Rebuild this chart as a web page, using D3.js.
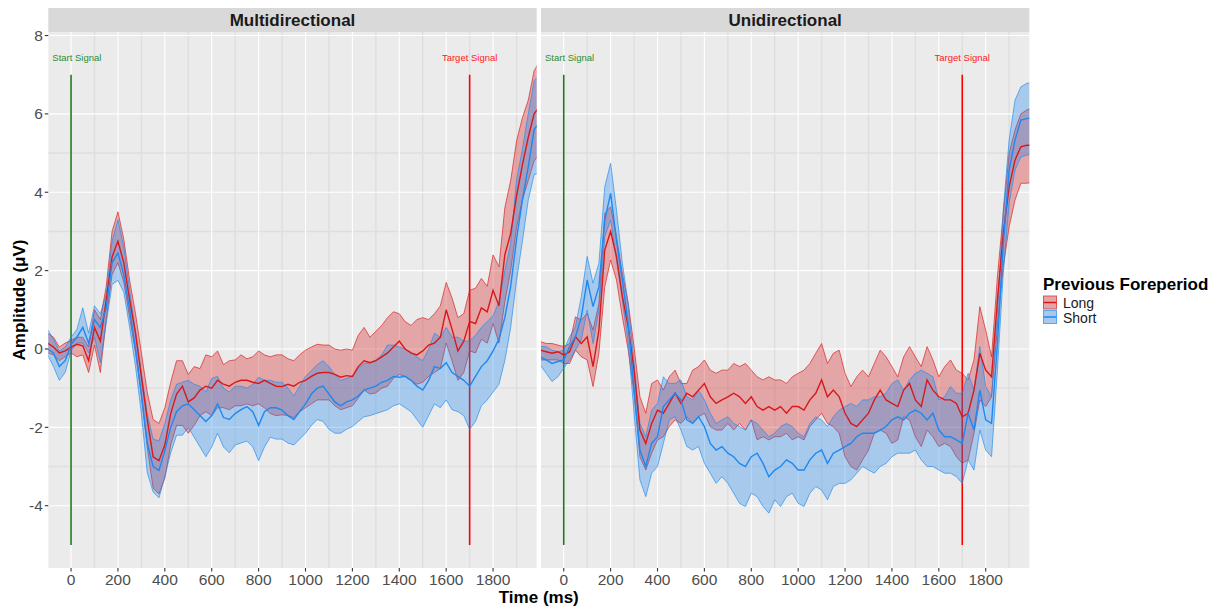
<!DOCTYPE html>
<html>
<head>
<meta charset="utf-8">
<script src="https://cdn.jsdelivr.net/npm/d3@7"></script>
<style>
  body { margin: 0; background: #fff; }
  text { font-family: "Liberation Sans", Arial, sans-serif; }
</style>
</head>
<body>
<div id="chart"></div>
<script>
// Время (мс), шаг 25
const times = [-100, -75, -50, -25, 0, 25, 50, 75,
  100, 125, 150, 175, 200, 225, 250, 275,
  300, 325, 350, 375, 400, 425, 450, 475,
  500, 525, 550, 575, 600, 625, 650, 675,
  700, 725, 750, 775, 800, 825, 850, 875,
  900, 925, 950, 975, 1000, 1025, 1050, 1075,
  1100, 1125, 1150, 1175, 1200, 1225, 1250, 1275,
  1300, 1325, 1350, 1375, 1400, 1425, 1450, 1475,
  1500, 1525, 1550, 1575, 1600, 1625, 1650, 1675,
  1700, 1725, 1750, 1775, 1800, 1825, 1850, 1875,
  1900, 1925, 1950, 1975, 2000];

const facets = ["Multidirectional", "Unidirectional"];
const groups = ["Long", "Short"];
const xTicks = [0, 200, 400, 600, 800, 1000, 1200, 1400, 1600, 1800];
const xMinor = [100, 300, 500, 700, 900, 1100, 1300, 1500, 1700, 1900];
const yTicks = [-4, -2, 0, 2, 4, 6, 8];
const yMinor = [5, 3, -1, -3];
const events = [{label: "Start Signal", t: 0, labelT: 25, clr: "#1f7a1f", txt: "#2e8b2e"},
                {label: "Target Signal", t: 1700, labelT: 1700, clr: "#ff0000", txt: "#ff2020"}];

// Multidirectional, Long
const multiLongMean = [0.15, 0.05, -0.1, -0.05, 0.05, 0.12, 0.08, -0.3,
  0.55, 0.2, 1.25, 2.35, 2.75, 2.2, 1.25, 0.4,
  -0.7, -1.8, -2.75, -2.85, -2.45, -1.65, -1.15, -0.95,
  -1.35, -1.25, -1.05, -0.95, -1.0, -0.8, -0.9, -0.95,
  -0.85, -0.8, -0.8, -0.85, -0.88, -0.8, -0.88, -0.95,
  -0.96, -0.9, -0.95, -0.85, -0.8, -0.7, -0.62, -0.6,
  -0.6, -0.65, -0.72, -0.68, -0.7, -0.45, -0.3, -0.35,
  -0.3, -0.2, -0.1, 0.05, 0.2, 0.0, -0.1, -0.15,
  -0.05, 0.1, 0.15, 0.3, 1.0, 0.5, -0.05, 0.2,
  0.7, 0.65, 1.05, 0.95, 1.5, 1.1, 2.4, 2.95,
  3.9, 4.7, 5.4, 6.0, 6.2];
const multiLongHi = [0.4, 0.3, 0.05, 0.15, 0.22, 0.3, 0.3, 0.05,
  1.0, 0.75, 1.6, 3.0, 3.5, 2.8, 1.75, 0.9,
  -0.1, -1.1, -1.8, -1.9, -1.5, -0.85, -0.3, -0.3,
  -0.65, -0.45, -0.5, -0.15, -0.2, -0.05, -0.4, -0.3,
  -0.28, -0.15, -0.25, -0.2, -0.05, -0.15, -0.2, -0.15,
  -0.15, -0.25, -0.3, -0.15, -0.03, 0.05, 0.12, 0.1,
  0.1, 0.0, -0.03, 0.0, -0.03, 0.35, 0.55, 0.3,
  0.45, 0.6, 0.8, 0.95, 0.9, 0.7, 0.6, 0.75,
  0.8, 0.75, 0.9, 1.1, 1.7, 1.3, 0.8, 0.9,
  1.5, 1.55, 1.8, 1.6, 2.4, 2.1, 3.6, 4.3,
  5.3, 5.9, 6.35, 7.1, 7.35];
const multiLongLo = [-0.1, -0.15, -0.3, -0.2, -0.1, -0.2, -0.15, -0.6,
  0.1, -0.6, 0.75, 1.9, 2.2, 1.7, 0.8, -0.1,
  -1.2, -2.5, -3.55, -3.7, -3.3, -2.45, -1.95, -1.95,
  -2.15, -1.95, -1.7, -1.6, -1.7, -1.5, -1.5, -1.55,
  -1.45, -1.45, -1.4, -1.45, -1.4, -1.5, -1.65, -1.7,
  -1.68, -1.7, -1.75, -1.6, -1.5, -1.4, -1.3, -1.3,
  -1.3, -1.45, -1.55, -1.5, -1.45, -1.25, -1.05, -1.15,
  -1.12, -1.0, -0.95, -0.75, -0.65, -0.7, -0.8, -0.9,
  -0.85, -0.7, -0.6, -0.5, 0.15, -0.3, -0.8, -0.6,
  -0.05, -0.1, 0.25, 0.15, 0.65, 0.15, 1.2, 2.0,
  3.1, 3.8, 4.3, 4.8, 5.0];

// Multidirectional, Short
const multiShortMean = [0.0, -0.1, -0.45, -0.3, 0.12, 0.3, 0.55, 0.15,
  0.75, 0.55, 1.05, 2.2, 2.45, 1.9, 1.0, 0.0,
  -1.15, -2.4, -3.0, -3.1, -2.6, -2.0, -1.6, -1.45,
  -1.4, -1.55, -1.7, -1.85, -1.7, -1.4, -1.75, -1.8,
  -1.65, -1.55, -1.47, -1.6, -1.95, -1.6, -1.5, -1.5,
  -1.56, -1.7, -1.8, -1.6, -1.4, -1.15, -1.0, -0.95,
  -1.15, -1.35, -1.45, -1.35, -1.3, -1.2, -1.05, -1.0,
  -0.95, -0.85, -0.8, -0.7, -0.72, -0.7, -0.8, -0.95,
  -1.05, -0.8, -0.45, -0.5, -0.35, -0.6, -0.7, -0.8,
  -0.95, -0.7, -0.45, -0.3, -0.05, 0.25, 0.8, 1.6,
  2.8, 3.8, 4.65, 5.6, 5.8];
const multiShortHi = [0.5, 0.25, -0.05, 0.05, 0.3, 0.5, 1.05, 0.4,
  1.1, 0.9, 1.4, 2.75, 3.3, 2.6, 1.5, 0.45,
  -0.6, -1.65, -2.3, -2.35, -1.9, -1.3, -0.9, -0.85,
  -0.8, -0.9, -0.95, -1.1, -0.75, -0.7, -1.0, -1.1,
  -0.95, -0.95, -1.0, -0.9, -0.72, -0.8, -0.8, -0.85,
  -0.85, -1.0, -1.2, -0.95, -0.7, -0.55, -0.4, -0.3,
  -0.45, -0.65, -0.8, -0.75, -0.7, -0.5, -0.37, -0.35,
  -0.28, -0.15, 0.1, 0.1, 0.05, 0.0, -0.1, -0.2,
  -0.3, 0.0, 0.4, 0.3, 0.55, 0.3, 0.3, 0.2,
  0.2, 0.35, 0.55, 0.7, 0.85, 1.2, 2.0, 2.7,
  4.3, 5.1, 6.0, 6.85, 7.0];
const multiShortLo = [-0.15, -0.45, -0.8, -0.6, -0.05, 0.15, 0.15, -0.1,
  0.3, -0.35, 0.65, 1.65, 1.75, 1.45, 0.55, -0.45,
  -1.65, -3.15, -3.65, -3.8, -3.25, -2.65, -2.2, -2.2,
  -2.0, -2.25, -2.5, -2.75, -2.5, -2.15, -2.5, -2.65,
  -2.45, -2.4, -2.35, -2.5, -2.85, -2.5, -2.25, -2.3,
  -2.3, -2.4, -2.45, -2.3, -2.15, -1.95, -1.8, -1.85,
  -2.05, -2.15, -2.15, -2.05, -1.98, -1.85, -1.73, -1.7,
  -1.65, -1.6, -1.55, -1.45, -1.4, -1.5, -1.6, -1.8,
  -2.0, -1.7, -1.4, -1.5, -1.3, -1.55, -1.6, -1.7,
  -2.05, -1.85, -1.45, -1.3, -1.1, -0.9, -0.3, 0.55,
  1.75, 2.75, 3.8, 4.45, 4.5];

// Unidirectional, Long
const uniLongMean = [-0.03, -0.07, -0.11, -0.07, -0.15, -0.07, 0.31, 0.14,
  0.31, -0.45, 0.48, 2.53, 3.0, 2.36, 1.34, 0.57,
  -0.54, -2.07, -2.41, -1.9, -1.56, -1.64, -1.39, -1.13,
  -1.39, -1.13, -1.22, -1.05, -0.88, -1.22, -1.39, -1.3,
  -1.22, -1.13, -1.22, -1.39, -1.22, -1.47, -1.56, -1.47,
  -1.56, -1.47, -1.64, -1.47, -1.47, -1.56, -1.3, -1.13,
  -0.79, -1.22, -1.05, -1.22, -1.64, -1.9, -1.98, -1.81,
  -1.64, -1.3, -1.05, -1.3, -1.39, -1.47, -1.05, -0.88,
  -1.3, -1.47, -0.79, -1.05, -1.22, -1.3, -1.3, -1.39,
  -1.73, -1.64, -1.05, -0.11, -0.54, -0.71, 1.25, 2.95,
  4.14, 4.82, 5.16, 5.2, 5.2];
const uniLongHi = [0.19, 0.14, 0.14, 0.1, 0.06, 0.14, 0.82, 0.74,
  0.91, 0.48, 1.16, 3.46, 3.63, 2.87, 1.93, 1.16,
  0.06, -1.22, -1.64, -0.88, -0.79, -1.05, -0.71, -0.54,
  -0.88, -0.88, -0.54, -0.45, -0.28, -0.54, -0.62, -0.54,
  -0.54, -0.37, -0.45, -0.37, -0.54, -0.71, -0.79, -0.71,
  -0.79, -0.79, -0.88, -0.71, -0.62, -0.54, -0.37, -0.11,
  0.14, -0.37, -0.11, -0.03, -0.62, -0.96, -0.71, -0.54,
  -0.71, -0.37, -0.03, -0.2, -0.45, -0.71, -0.2, 0.06,
  -0.2, -0.45, 0.06, -0.28, -0.71, -0.45, -0.28, -0.54,
  -0.62, -0.79, -0.28, 1.08, 0.48, -0.2, 1.85, 3.46,
  4.99, 5.59, 6.0, 6.1, 6.15];
const uniLongLo = [-0.28, -0.28, -0.28, -0.28, -0.37, -0.37, -0.03, -0.2,
  -0.28, -0.96, -0.11, 1.59, 2.27, 1.76, 0.82, -0.03,
  -1.13, -2.75, -3.09, -2.66, -2.32, -2.24, -1.98, -1.81,
  -1.9, -1.73, -1.9, -1.73, -1.64, -1.98, -2.07, -2.07,
  -1.9, -2.07, -1.9, -2.07, -1.81, -2.32, -2.24, -2.32,
  -2.24, -2.24, -2.15, -2.32, -2.24, -2.32, -1.98, -1.81,
  -1.64, -1.9, -1.98, -2.15, -2.75, -3.0, -3.09, -2.83,
  -2.58, -2.15, -2.07, -2.15, -2.41, -2.32, -1.73, -1.81,
  -2.24, -2.49, -2.07, -2.24, -2.49, -2.41, -2.49, -2.75,
  -2.92, -2.83, -2.15, -1.3, -1.47, -1.22, 0.57, 2.1,
  3.12, 3.8, 4.23, 4.23, 4.25];

// Unidirectional, Short
const uniShortMean = [-0.2, -0.28, -0.37, -0.32, -0.28, 0.06, 0.31, 0.82,
  1.76, 1.08, 1.59, 3.29, 3.97, 2.78, 1.76, 0.65,
  -1.05, -2.58, -3.0, -2.41, -2.24, -1.47, -1.3, -1.13,
  -1.3, -1.81, -1.9, -1.73, -1.98, -2.41, -2.58, -2.49,
  -2.66, -2.75, -2.92, -3.0, -2.75, -2.66, -2.92, -3.26,
  -3.09, -3.0, -2.83, -2.92, -3.09, -3.09, -2.83, -2.66,
  -2.58, -2.92, -2.66, -2.58, -2.49, -2.41, -2.24, -2.15,
  -2.15, -2.15, -2.07, -1.98, -1.81, -1.73, -1.81, -1.64,
  -1.56, -1.64, -1.81, -1.64, -2.07, -2.24, -2.24, -2.32,
  -2.41, -1.64, -2.07, -1.05, -1.81, -1.9, 0.14, 2.7,
  4.57, 5.33, 5.84, 5.88, 5.9];
const uniShortHi = [0.06, 0.06, -0.03, -0.07, -0.03, 0.31, 0.57, 1.34,
  2.36, 1.68, 2.19, 4.14, 4.74, 3.55, 2.19, 1.16,
  -0.37, -1.9, -2.24, -1.56, -1.39, -0.71, -0.88, -0.88,
  -0.79, -1.22, -1.3, -1.05, -1.3, -1.64, -1.9, -1.81,
  -1.73, -1.9, -1.98, -2.07, -1.81, -1.9, -2.07, -2.24,
  -2.15, -1.98, -1.9, -1.98, -2.15, -2.24, -1.9, -1.73,
  -1.81, -1.98, -1.73, -1.56, -1.47, -1.39, -1.47, -1.3,
  -1.3, -1.22, -1.22, -1.13, -0.88, -0.79, -1.05, -0.79,
  -0.62, -0.54, -0.62, -0.71, -1.3, -1.22, -0.96, -1.13,
  -1.13, -0.62, -1.05, 0.06, -0.96, -1.22, 0.91, 3.55,
  5.33, 6.35, 6.69, 6.78, 6.8];
const uniShortLo = [-0.41, -0.62, -0.83, -0.71, -0.49, -0.28, -0.03, 0.23,
  0.99, 0.14, 0.99, 2.87, 3.29, 2.27, 1.25, 0.14,
  -1.64, -3.34, -3.77, -3.17, -3.0, -2.41, -1.81, -1.73,
  -2.07, -2.49, -2.58, -2.49, -2.92, -3.17, -3.43, -3.26,
  -3.43, -3.68, -3.94, -4.02, -3.68, -3.77, -4.02, -4.19,
  -3.85, -4.02, -3.77, -3.68, -3.94, -4.02, -3.68, -3.51,
  -3.6, -3.85, -3.51, -3.43, -3.43, -3.34, -3.17, -3.0,
  -3.09, -3.17, -3.0, -2.92, -2.75, -2.66, -2.66, -2.66,
  -2.58, -2.83, -3.0, -3.0, -3.09, -3.17, -3.17, -3.26,
  -3.43, -2.83, -3.09, -2.07, -2.58, -2.75, -0.54, 1.93,
  3.72, 4.57, 4.9, 4.95, 4.95];

const colors = {Long: "#d7191c", Short: "#1e88f0"};

// Собираем серии
function rows(mean, lo, hi) {
    return times.map((t, i) => ({t: t, m: mean[i], lo: lo[i], hi: hi[i]}));
}
const panels = [
    {name: facets[0], x0: 48.3, x1: 536.7, series: {
        Long: rows(multiLongMean, multiLongLo, multiLongHi),
        Short: rows(multiShortMean, multiShortLo, multiShortHi)}},
    {name: facets[1], x0: 541, x1: 1029.3, series: {
        Long: rows(uniLongMean, uniLongLo, uniLongHi),
        Short: rows(uniShortMean, uniShortLo, uniShortHi)}}
];

const W = 1219, H = 610;
const panelTop = 32, panelBottom = 568;
const svg = d3.select("#chart").append("svg")
    .attr("width", W).attr("height", H);

const y = d3.scaleLinear().domain([-5.59, 8.09]).range([panelBottom, panelTop]);

panels.forEach((p, pi) => {
    const x = d3.scaleLinear().domain([-97, 1986]).range([p.x0, p.x1]);
    const g = svg.append("g");

    // фон и сетка
    g.append("rect").attr("x", p.x0).attr("y", panelTop)
        .attr("width", p.x1 - p.x0).attr("height", panelBottom - panelTop).attr("fill", "#ebebeb");
    g.selectAll(".vminor").data(xMinor).enter().append("line")
        .attr("x1", d => x(d)).attr("x2", d => x(d)).attr("y1", panelTop).attr("y2", panelBottom)
        .attr("stroke", "#dedede").attr("stroke-width", 1.4);
    g.selectAll(".hminor").data(yMinor).enter().append("line")
        .attr("x1", p.x0).attr("x2", p.x1).attr("y1", d => y(d)).attr("y2", d => y(d))
        .attr("stroke", "#dedede").attr("stroke-width", 1.4);
    g.selectAll(".vmajor").data(xTicks).enter().append("line")
        .attr("x1", d => x(d)).attr("x2", d => x(d)).attr("y1", panelTop).attr("y2", panelBottom)
        .attr("stroke", "#ffffff").attr("stroke-width", 1.1);
    g.selectAll(".hmajor").data(yTicks).enter().append("line")
        .attr("x1", p.x0).attr("x2", p.x1).attr("y1", d => y(d)).attr("y2", d => y(d))
        .attr("stroke", "#ffffff").attr("stroke-width", 1.1);

    // полоса с заголовком
    g.append("rect").attr("x", p.x0).attr("y", 8)
        .attr("width", p.x1 - p.x0).attr("height", panelTop - 8).attr("fill", "#d9d9d9");
    g.append("text").attr("x", (p.x0 + p.x1) / 2).attr("y", 20.5)
        .attr("text-anchor", "middle").attr("dominant-baseline", "central")
        .attr("font-size", 17).attr("font-weight", "bold").attr("fill", "#1a1a1a")
        .text(p.name);

    // отметки событий
    events.forEach(ev => {
        g.append("line").attr("x1", x(ev.t)).attr("x2", x(ev.t))
            .attr("y1", y(-5)).attr("y2", y(7))
            .attr("stroke", ev.clr).attr("stroke-width", 1.6);
        g.append("text").attr("x", x(ev.labelT)).attr("y", y(7.45))
            .attr("text-anchor", "middle").attr("dominant-baseline", "central")
            .attr("font-size", 9.5).attr("fill", ev.txt).text(ev.label);
    });

    // клип
    const clipId = "clip" + pi;
    svg.append("clipPath").attr("id", clipId).append("rect")
        .attr("x", p.x0).attr("y", panelTop).attr("width", p.x1 - p.x0).attr("height", panelBottom - panelTop);
    const plot = g.append("g").attr("clip-path", `url(#${clipId})`);

    const area = d3.area().x(d => x(d.t)).y0(d => y(d.lo)).y1(d => y(d.hi));
    const lineM = d3.line().x(d => x(d.t)).y(d => y(d.m));
    const lineLo = d3.line().x(d => x(d.t)).y(d => y(d.lo));
    const lineHi = d3.line().x(d => x(d.t)).y(d => y(d.hi));

    groups.forEach(gr => {
        const data = p.series[gr];
        plot.append("path").datum(data).attr("d", area)
            .attr("fill", colors[gr]).attr("fill-opacity", 0.33).attr("stroke", "none");
        [lineLo, lineHi].forEach(ln => {
            plot.append("path").datum(data).attr("d", ln)
                .attr("fill", "none").attr("stroke", colors[gr])
                .attr("stroke-opacity", 0.65).attr("stroke-width", 1);
        });
    });
    groups.forEach(gr => {
        plot.append("path").datum(p.series[gr]).attr("d", lineM)
            .attr("fill", "none").attr("stroke", colors[gr]).attr("stroke-width", 1.4);
    });

    // ось X
    g.selectAll(".xt").data(xTicks).enter().append("line")
        .attr("x1", d => x(d)).attr("x2", d => x(d)).attr("y1", panelBottom).attr("y2", panelBottom + 3.5)
        .attr("stroke", "#333").attr("stroke-width", 1.1);
    g.selectAll(".xl").data(xTicks).enter().append("text")
        .attr("x", d => x(d)).attr("y", 579.5).attr("text-anchor", "middle")
        .attr("dominant-baseline", "central").attr("font-size", 15.5).attr("fill", "#4d4d4d")
        .text(d => d);

    // ось Y только слева
    if (pi === 0) {
        g.selectAll(".yt").data(yTicks).enter().append("line")
            .attr("x1", p.x0 - 3.5).attr("x2", p.x0).attr("y1", d => y(d)).attr("y2", d => y(d))
            .attr("stroke", "#333").attr("stroke-width", 1.1);
        g.selectAll(".yl").data(yTicks).enter().append("text")
            .attr("x", p.x0 - 5.5).attr("y", d => y(d)).attr("text-anchor", "end")
            .attr("dominant-baseline", "central").attr("font-size", 15.5).attr("fill", "#4d4d4d")
            .text(d => d);
    }
});

// подписи осей
svg.append("text").attr("x", (48.3 + 1029.3) / 2).attr("y", 597)
    .attr("text-anchor", "middle").attr("dominant-baseline", "central")
    .attr("font-size", 17).attr("font-weight", "bold").attr("fill", "#000")
    .text("Time (ms)");
svg.append("text").attr("transform", `translate(19,${(panelTop + panelBottom) / 2}) rotate(-90)`)
    .attr("text-anchor", "middle").attr("dominant-baseline", "central")
    .attr("font-size", 17).attr("font-weight", "bold").attr("fill", "#000")
    .text("Amplitude (μV)");

// легенда
const lg = svg.append("g");
lg.append("text").attr("x", 1043).attr("y", 284).attr("dominant-baseline", "central")
    .attr("font-size", 17).attr("font-weight", "bold").attr("fill", "#000")
    .text("Previous Foreperiod");
groups.forEach((gr, i) => {
    const ky = 295.5 + i * 14.5;
    lg.append("rect").attr("x", 1043).attr("y", ky).attr("width", 14).attr("height", 14)
        .attr("fill", "#ebebeb");
    lg.append("rect").attr("x", 1043.5).attr("y", ky + 0.5).attr("width", 13).attr("height", 13)
        .attr("fill", colors[gr]).attr("fill-opacity", 0.33)
        .attr("stroke", colors[gr]).attr("stroke-opacity", 0.65).attr("stroke-width", 1);
    lg.append("line").attr("x1", 1043.5).attr("x2", 1056.5).attr("y1", ky + 7).attr("y2", ky + 7)
        .attr("stroke", colors[gr]).attr("stroke-width", 1.5);
    lg.append("text").attr("x", 1063).attr("y", ky + 7.5).attr("dominant-baseline", "central")
        .attr("font-size", 14).attr("fill", "#1a1a1a").text(gr);
});
</script>
</body>
</html>
